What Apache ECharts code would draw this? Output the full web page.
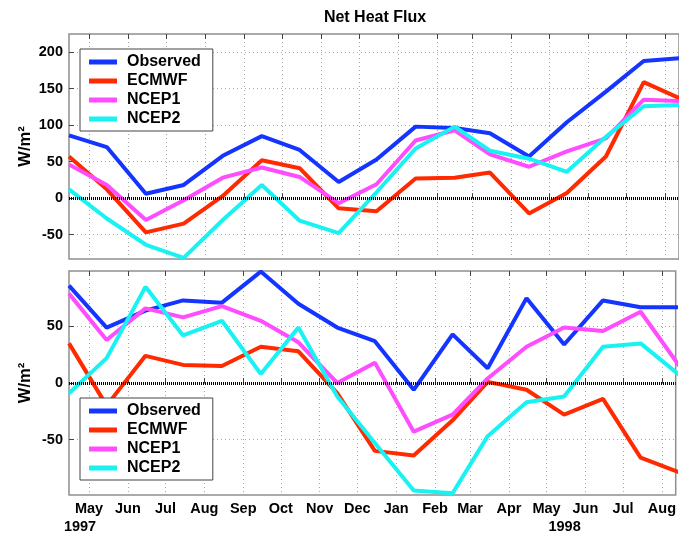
<!DOCTYPE html>
<html>
<head>
<meta charset="utf-8">
<script src="https://cdn.jsdelivr.net/npm/echarts@6/dist/echarts.min.js"></script>
<style>
  html, body { margin: 0; padding: 0; background: #fff; }
  #chart { width: 679px; height: 535px; }
</style>
</head>
<body>
<div id="chart"></div>
<script>
// Monthly means, mid-month, April 1997 to August 1998
const pointMonths = ['1997-04','1997-05','1997-06','1997-07','1997-08','1997-09','1997-10','1997-11','1997-12',
                     '1998-01','1998-02','1998-03','1998-04','1998-05','1998-06','1998-07','1998-08'];

// Upper panel: net heat flux (W/m^2)
const topObserved = [86, 70, 6, 18, 58, 85, 66, 22, 53, 98, 96, 89, 57, 104, 146, 188, 192];
const topECMWF    = [57, 12, -47, -35, 3, 52, 41, -14, -18, 27, 28, 35, -21, 7, 57, 159, 135];
const topNCEP1    = [46, 18, -30, -3, 28, 42, 29, -7, 19, 79, 93, 60, 43, 64, 82, 135, 133];
const topNCEP2    = [12, -28, -64, -82, -30, 18, -31, -48, 8, 68, 98, 65, 54, 36, 84, 126, 128];

// Lower panel (W/m^2)
const botObserved = [86, 49, 64, 73, 71, 98.5, 70, 49, 37, -6, 43, 13, 75, 34, 73, 67, 67];
const botECMWF    = [35, -20, 24, 16, 15, 32, 28, -9, -60, -64, -33, 1, -6, -28, -14, -66, -79];
const botNCEP1    = [79, 38, 66, 58, 68, 55, 36, 0, 18, -43, -28, 4, 32, 49, 46, 63, 15];
const botNCEP2    = [-9, 22, 85, 42, 55, 8, 49, -12, -53, -95, -97.5, -47, -17, -12, 32, 35, 7];

// Axis ticks and labels
const tickMonths = ['1997-05','1997-06','1997-07','1997-08','1997-09','1997-10','1997-11','1997-12',
                    '1998-01','1998-02','1998-03','1998-04','1998-05','1998-06','1998-07','1998-08'];
const monthNames = ['Jan','Feb','Mar','Apr','May','Jun','Jul','Aug','Sep','Oct','Nov','Dec'];
const yearMarks = { '1997-05': '1997', '1998-05': '1998' };
const topYTicks = [-50, 0, 50, 100, 150, 200];
const botYTicks = [-50, 0, 50];
const seriesNames = ['Observed', 'ECMWF', 'NCEP1', 'NCEP2'];
const seriesColors = ['#1434ff', '#ff2a00', '#ff4cff', '#19f2f2'];

const DAY = 86400000;
function dayOf(ym, d) {
  const [y, m] = ym.split('-').map(Number);
  return Date.UTC(y, m - 1, d) / DAY;
}
const xMin = dayOf('1997-04', 15);
const xMax = dayOf('1998-08', 12);
const xTicks = tickMonths.map(ym => dayOf(ym, 1));
const xPoints = pointMonths.map(ym => dayOf(ym, 15));

function pairs(vals) { return vals.map((v, i) => [xPoints[i], v]); }

const FONT = "'Liberation Sans', Arial, Helvetica, sans-serif";
const gridLine = { show: true, lineStyle: { color: '#a8a8a8', type: [1, 3], width: 1 } };
const tickStyle = { show: true, inside: true, length: 5, lineStyle: { color: '#444', width: 1 } };

function xAxisFor(gridIndex, position, withLabels) {
  return {
    type: 'value', gridIndex, position, min: xMin, max: xMax,
    axisLine: { show: false },
    axisTick: Object.assign({ customValues: xTicks }, tickStyle),
    splitLine: position === 'bottom' ? gridLine : { show: false },
    axisLabel: withLabels ? {
      show: true, customValues: xTicks, margin: 5, color: '#000',
      verticalAlign: 'top',
      formatter: v => {
        const d = new Date(v * DAY);
        const ym = d.getUTCFullYear() + '-' + String(d.getUTCMonth() + 1).padStart(2, '0');
        const m = monthNames[d.getUTCMonth()];
        const yr = yearMarks[ym];
        if (!yr) return '{m|' + m + '}';
        return '{m|' + m + '}\n{' + (yr === '1997' ? 'ya' : 'yb') + '|' + yr + '}';
      },
      rich: {
        m:  { fontFamily: FONT, fontSize: 14.5, fontWeight: 'bold', color: '#000', lineHeight: 18 },
        ya: { fontFamily: FONT, fontSize: 14.5, fontWeight: 'bold', color: '#000', lineHeight: 18, padding: [0, 18, 0, 0] },
        yb: { fontFamily: FONT, fontSize: 14.5, fontWeight: 'bold', color: '#000', lineHeight: 18, padding: [0, 0, 0, 36] }
      }
    } : { show: false }
  };
}

function yAxisFor(gridIndex, min, max, ticks) {
  return {
    type: 'value', gridIndex, min, max,
    axisLine: { show: false },
    axisTick: Object.assign({ customValues: ticks }, tickStyle),
    splitLine: gridLine,
    axisLabel: {
      customValues: ticks, margin: 6, color: '#000',
      fontFamily: FONT, fontSize: 14.5, fontWeight: 'bold'
    },
    name: 'W/m²', nameLocation: 'middle', nameGap: 35, nameRotate: 90,
    nameMoveOverlap: false,
    nameTextStyle: { fontFamily: FONT, fontSize: 16.5, fontWeight: 'bold', color: '#000' }
  };
}

const zeroLine = {
  silent: true, symbol: 'none', label: { show: false },
  lineStyle: { color: '#000', type: [1, 1], width: 3 },
  data: [{ yAxis: 0 }]
};

function lineSeries(name, idx, vals, gridNo) {
  const s = {
    name, type: 'line', xAxisIndex: gridNo * 2, yAxisIndex: gridNo,
    data: pairs(vals), symbol: 'none', color: seriesColors[idx],
    lineStyle: { width: 4, color: seriesColors[idx] },
    emphasis: { disabled: true }
  };
  if (idx === 0) s.markLine = zeroLine;
  return s;
}

const legendBase = {
  orient: 'vertical', left: 80, icon: 'rect',
  itemWidth: 28, itemHeight: 5, itemGap: 3,
  padding: [5, 12, 4, 9],
  backgroundColor: '#fff', borderColor: '#444', borderWidth: 1,
  textStyle: { fontFamily: FONT, fontSize: 16, fontWeight: 'bold', color: '#000', lineHeight: 16, padding: [0, 0, 0, 5] },
  data: seriesNames,
  selectedMode: false
};

const option = {
  animation: false,
  textStyle: { fontFamily: FONT },
  title: {
    text: 'Net Heat Flux', left: 370, top: 5, textAlign: 'center',
    textStyle: { fontFamily: FONT, fontSize: 16, fontWeight: 'bold', color: '#000' }
  },
  legend: [
    Object.assign({}, legendBase, { top: 49 }),
    Object.assign({}, legendBase, { top: 398 })
  ],
  grid: [
    { left: 69, top: 34, width: 612, height: 225, show: true, borderColor: '#8f8f8f', borderWidth: 1.5 },
    { left: 69, top: 271, width: 612, height: 224, show: true, borderColor: '#8f8f8f', borderWidth: 1.5 }
  ],
  xAxis: [
    xAxisFor(0, 'bottom', false), xAxisFor(0, 'top', false),
    xAxisFor(1, 'bottom', true), xAxisFor(1, 'top', false)
  ],
  yAxis: [
    yAxisFor(0, -83.5, 225, topYTicks),
    yAxisFor(1, -99, 99, botYTicks)
  ],
  series: [
    lineSeries('Observed', 0, topObserved, 0),
    lineSeries('ECMWF', 1, topECMWF, 0),
    lineSeries('NCEP1', 2, topNCEP1, 0),
    lineSeries('NCEP2', 3, topNCEP2, 0),
    lineSeries('Observed', 0, botObserved, 1),
    lineSeries('ECMWF', 1, botECMWF, 1),
    lineSeries('NCEP1', 2, botNCEP1, 1),
    lineSeries('NCEP2', 3, botNCEP2, 1)
  ]
};

const chart = echarts.init(document.getElementById('chart'), null, { renderer: 'canvas' });
chart.setOption(option);
</script>
</body>
</html>
